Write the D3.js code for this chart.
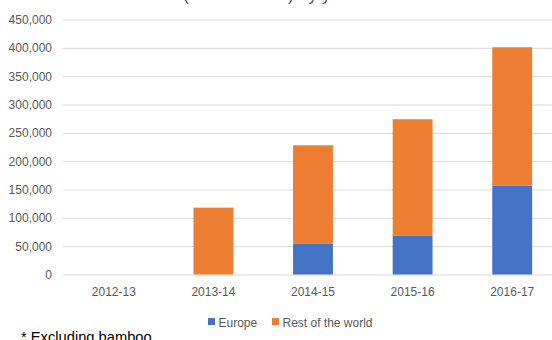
<!DOCTYPE html>
<html>
<head>
<meta charset="utf-8">
<script src="https://cdn.jsdelivr.net/npm/d3@7"></script>
<style>
  html, body { margin: 0; padding: 0; background: #fff; }
  svg { display: block; }
  text { font-family: "Liberation Sans", Arial, sans-serif; }
</style>
</head>
<body>
<svg id="chart" width="552" height="340"></svg>
<script>
// Annual volumes by region (stacked)
const categories = ["2012-13", "2013-14", "2014-15", "2015-16", "2016-17"];
const europe      = [0, 0, 54000, 69000, 157000];
const restOfWorld = [0, 118000, 174000, 205000, 244000];
const seriesNames = ["Europe", "Rest of the world"];
const yTicks = [0, 50000, 100000, 150000, 200000, 250000, 300000, 350000, 400000, 450000];
const titleLead = "Total volume ";
const titleRest = "(cubic metres) by year";
const footnote = "* Excluding bamboo";

const colors = { "Europe": "#4472C4", "Rest of the world": "#ED7D31" };
const textGray = "#595959";
const gridGray = "#d9d9d9";

const svg = d3.select("#chart");

const rows = categories.map((c, i) => ({
  cat: c,
  "Europe": europe[i],
  "Rest of the world": restOfWorld[i]
}));
const stacked = d3.stack().keys(seriesNames)(rows);

const x = d3.scaleBand()
  .domain(categories)
  .range([64, 562])
  .paddingInner(0.6)
  .paddingOuter(0.3);

const y = d3.scaleLinear()
  .domain([0, 450000])
  .range([274.5, 19.5]);

// Title (sits above the top edge, only its descenders show); bracket starts at x = 183
const title = svg.append("text")
  .attr("y", -0.5)
  .attr("font-size", 17.5)
  .attr("fill", textGray);
const lead = title.append("tspan").text(titleLead);
title.append("tspan").text(titleRest);
const leadWidth = lead.node().getComputedTextLength();
title.attr("x", 183 - leadWidth);

// Horizontal gridlines + y tick labels
const yAxis = d3.axisLeft(y)
  .tickValues(yTicks)
  .tickSize(-(562 - 63))
  .tickPadding(11)
  .tickFormat(d => d === 0 ? "0" : d3.format(",")(d));

const gy = svg.append("g")
  .attr("transform", "translate(63,0)")
  .call(yAxis);
gy.select(".domain").remove();
gy.selectAll(".tick line").attr("stroke", gridGray).attr("stroke-width", 1);
gy.selectAll(".tick text")
  .attr("font-size", 12)
  .attr("fill", textGray)
  .attr("font-family", "Liberation Sans, Arial, sans-serif");

// Stacked bars
svg.append("g")
  .selectAll("g")
  .data(stacked)
  .join("g")
  .attr("fill", d => colors[d.key])
  .selectAll("rect")
  .data(d => d)
  .join("rect")
  .attr("x", d => x(d.data.cat))
  .attr("width", x.bandwidth())
  .attr("y", d => y(d[1]))
  .attr("height", d => Math.max(0, y(d[0]) - y(d[1])));

// Category axis labels
const xAxis = d3.axisBottom(x).tickSize(0).tickPadding(13);
const gx = svg.append("g")
  .attr("transform", "translate(0,274.5)")
  .call(xAxis);
gx.select(".domain").remove();
gx.selectAll(".tick text")
  .attr("font-size", 12)
  .attr("fill", textGray)
  .attr("font-family", "Liberation Sans, Arial, sans-serif");

// Legend
const legendPos = [208, 272];
const legend = svg.append("g");
seriesNames.forEach((name, i) => {
  legend.append("rect")
    .attr("x", legendPos[i])
    .attr("y", 318)
    .attr("width", 7)
    .attr("height", 7)
    .attr("fill", colors[name]);
  legend.append("text")
    .attr("x", legendPos[i] + 10.5)
    .attr("y", 326.5)
    .attr("font-size", 12)
    .attr("fill", textGray)
    .text(name);
});

// Footnote (its lower part falls below the bottom edge)
svg.append("text")
  .attr("x", 21)
  .attr("y", 342)
  .attr("font-size", 14.7)
  .attr("fill", "#000")
  .text(footnote);
</script>
</body>
</html>
